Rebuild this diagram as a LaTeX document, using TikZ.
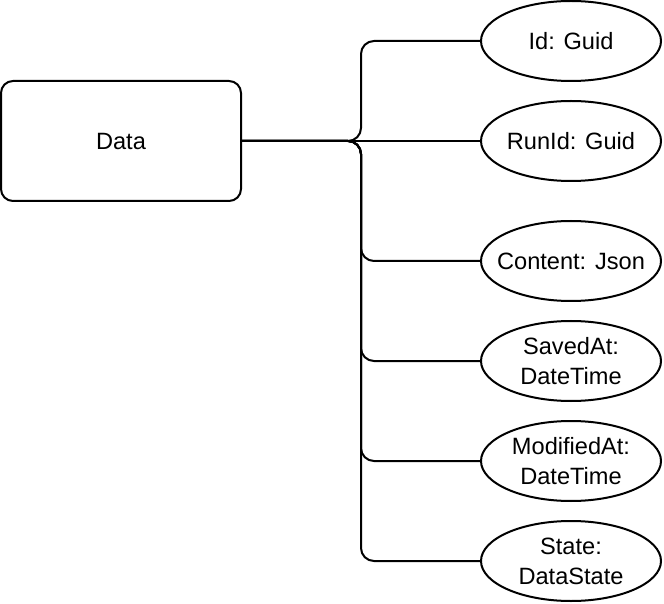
\documentclass[tikz,border=0pt]{standalone}
\usepackage{fontspec}
\setmainfont{Liberation Sans}
\usetikzlibrary{shapes.geometric}
\begin{document}
\begin{tikzpicture}[x=0.5pt,y=-0.5pt,
  every node/.style={font=\fontsize{11.8}{15}\selectfont, align=center, inner sep=0pt},
  entitybox/.style={draw, line width=1pt, rounded corners=6pt, minimum width=120pt, minimum height=60pt},
  attr/.style={draw, ellipse, line width=1pt, minimum width=90pt, minimum height=40pt, inner sep=0pt},
  link/.style={draw, line width=1pt, rounded corners=6.5pt}]
\useasboundingbox (0,0) rectangle (664,604);
\node[entitybox] (data) at (121,141) {Data};
\node[attr, label={center:Id: Guid}] (id) at (571,41) {};
\node[attr, label={center:RunId: Guid}] (runid) at (571,141) {};
\node[attr, label={center:Content: Json}] (content) at (571,261) {};
\node[attr, label={center:SavedAt:\\DateTime}] (saved) at (571,361) {};
\node[attr, label={center:ModifiedAt:\\DateTime}] (modified) at (571,461) {};
\node[attr, label={center:State:\\DataState}] (state) at (571,561) {};
\coordinate (j) at (361,141);
\path[link] (data.east) -- (j) |- (id.west);
\path[link] (data.east) -- (runid.west);
\path[link] (data.east) -- (j) |- (content.west);
\path[link] (data.east) -- (j) |- (saved.west);
\path[link] (data.east) -- (j) |- (modified.west);
\path[link] (data.east) -- (j) |- (state.west);
\end{tikzpicture}
\end{document}
